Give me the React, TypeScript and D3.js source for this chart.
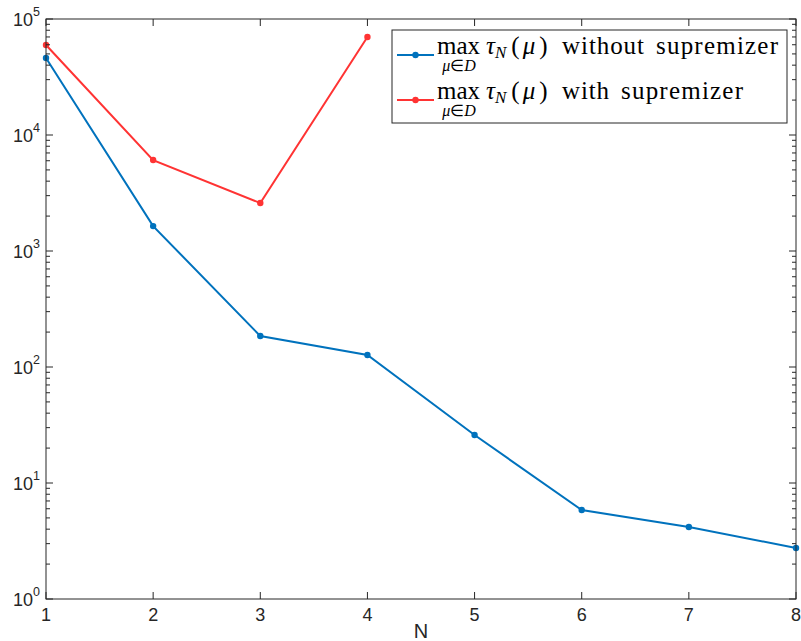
import React from "react";
import * as d3 from "d3";

// Basis size N on the horizontal axis
const nValues = [1, 2, 3, 4, 5, 6, 7, 8];
// max over the parameter set of tau_N(mu), without supremizer enrichment
const withoutSupremizer = [46100, 1640, 185, 127, 25.9, 5.85, 4.18, 2.75];
// same quantity with supremizer enrichment (only computed up to N = 4)
const withSupremizerN = [1, 2, 3, 4];
const withSupremizer = [59700, 6080, 2590, 70000];

const xTicks = [1, 2, 3, 4, 5, 6, 7, 8];
const yExponents = [0, 1, 2, 3, 4, 5];

const W = 801;
const H = 641;
const margin = { left: 46, right: 5, top: 19, bottom: 42 };

const BLUE = "#0072BD";
const RED = "#FF3333";
const AXIS = "#262626";
const tickFont = "'Liberation Sans', Arial, Helvetica, sans-serif";
const mathFont = "'Liberation Serif', 'Times New Roman', serif";

// legend rows: colour and the words after the math expression, with widths
const legendRows = [
  { color: BLUE, words: [{ t: "without", w: 82 }, { t: "supremizer", w: 122 }] },
  { color: RED, words: [{ t: "with", w: 47 }, { t: "supremizer", w: 122 }] },
];

export default function App() {
  const x = d3
    .scaleLinear()
    .domain([1, 8])
    .range([margin.left, W - margin.right]);
  const y = d3
    .scaleLog()
    .domain([1, 1e5])
    .range([H - margin.bottom, margin.top]);

  const x0 = margin.left;
  const x1 = W - margin.right;
  const y0 = H - margin.bottom;
  const y1 = margin.top;

  const line = d3
    .line<[number, number]>()
    .x((d) => x(d[0]))
    .y((d) => y(d[1]));

  const bluePts: [number, number][] = nValues.map((n, i) => [n, withoutSupremizer[i]]);
  const redPts: [number, number][] = withSupremizerN.map((n, i) => [n, withSupremizer[i]]);

  // minor ticks at 2..9 in every decade
  const minor: number[] = [];
  for (let e = 0; e < 5; e++) {
    for (let k = 2; k <= 9; k++) minor.push(k * Math.pow(10, e));
  }

  return (
    <svg
      width={W}
      height={H}
      style={{ position: "absolute", left: 0, top: 0, background: "#fff" }}
    >
      <rect x={0} y={0} width={W} height={H} fill="#fff" />

      {/* series */}
      <path d={line(bluePts) ?? ""} fill="none" stroke={BLUE} strokeWidth={2} />
      {bluePts.map((p, i) => (
        <circle key={"b" + i} cx={x(p[0])} cy={y(p[1])} r={3.2} fill={BLUE} />
      ))}
      <path d={line(redPts) ?? ""} fill="none" stroke={RED} strokeWidth={2} />
      {redPts.map((p, i) => (
        <circle key={"r" + i} cx={x(p[0])} cy={y(p[1])} r={3.2} fill={RED} />
      ))}

      {/* axes box */}
      <rect
        x={x0}
        y={y1}
        width={x1 - x0}
        height={y0 - y1}
        fill="none"
        stroke={AXIS}
        strokeWidth={1}
      />

      {/* x ticks (bottom and top, inward) */}
      {xTicks.map((t) => (
        <g key={"xt" + t}>
          <line x1={x(t)} x2={x(t)} y1={y0} y2={y0 - 7} stroke={AXIS} />
          <line x1={x(t)} x2={x(t)} y1={y1} y2={y1 + 7} stroke={AXIS} />
          <text
            x={x(t)}
            y={y0 + 22}
            textAnchor="middle"
            fontFamily={tickFont}
            fontSize={18}
            fill={AXIS}
          >
            {t}
          </text>
        </g>
      ))}

      {/* y major ticks */}
      {yExponents.map((e) => {
        const yy = y(Math.pow(10, e));
        return (
          <g key={"yt" + e}>
            <line x1={x0} x2={x0 + 7} y1={yy} y2={yy} stroke={AXIS} />
            <line x1={x1} x2={x1 - 7} y1={yy} y2={yy} stroke={AXIS} />
            <text
              x={x0 - 13}
              y={yy + 7}
              textAnchor="end"
              fontFamily={tickFont}
              fontSize={18}
              fill={AXIS}
            >
              10
            </text>
            <text
              x={x0 - 13}
              y={yy - 3}
              textAnchor="start"
              fontFamily={tickFont}
              fontSize={12.5}
              fill={AXIS}
            >
              {e}
            </text>
          </g>
        );
      })}

      {/* y minor ticks */}
      {minor.map((m) => (
        <g key={"ym" + m}>
          <line x1={x0} x2={x0 + 4} y1={y(m)} y2={y(m)} stroke={AXIS} />
          <line x1={x1} x2={x1 - 4} y1={y(m)} y2={y(m)} stroke={AXIS} />
        </g>
      ))}

      {/* x label */}
      <text
        x={421}
        y={H - 3}
        textAnchor="middle"
        fontFamily={tickFont}
        fontSize={20}
        fill={AXIS}
      >
        N
      </text>

      {/* legend */}
      <rect x={392} y={30} width={395} height={93} fill="#fff" stroke={AXIS} strokeWidth={1} />
      {legendRows.map((row, i) => {
        const ly = 55 + i * 45;
        const base = ly - 1;
        let wx = 562;
        return (
          <g key={"lg" + i} fontFamily={mathFont} fill="#000">
            <line x1={397} x2={434} y1={ly} y2={ly} stroke={row.color} strokeWidth={2} />
            <circle cx={415.5} cy={ly} r={3.2} fill={row.color} />
            <text x={437} y={base} fontSize={25}>
              <tspan>max</tspan>
              <tspan dx={6} fontStyle="italic">τ</tspan>
              <tspan dy={4} fontSize={17} fontStyle="italic">N</tspan>
              <tspan dy={-4} dx={5}>(</tspan>
              <tspan dx={3} fontStyle="italic">μ</tspan>
              <tspan dx={4}>)</tspan>
            </text>
            {row.words.map((w, k) => {
              const el = (
                <text
                  key={"w" + k}
                  x={wx}
                  y={base}
                  fontSize={25}
                  textLength={w.w}
                  lengthAdjust="spacing"
                >
                  {w.t}
                </text>
              );
              wx += w.w + 12;
              return el;
            })}
            <text x={459} y={base + 17} fontSize={16} textAnchor="middle">
              <tspan fontStyle="italic">μ</tspan>
              <tspan>∈</tspan>
              <tspan fontStyle="italic">D</tspan>
            </text>
          </g>
        );
      })}
    </svg>
  );
}
